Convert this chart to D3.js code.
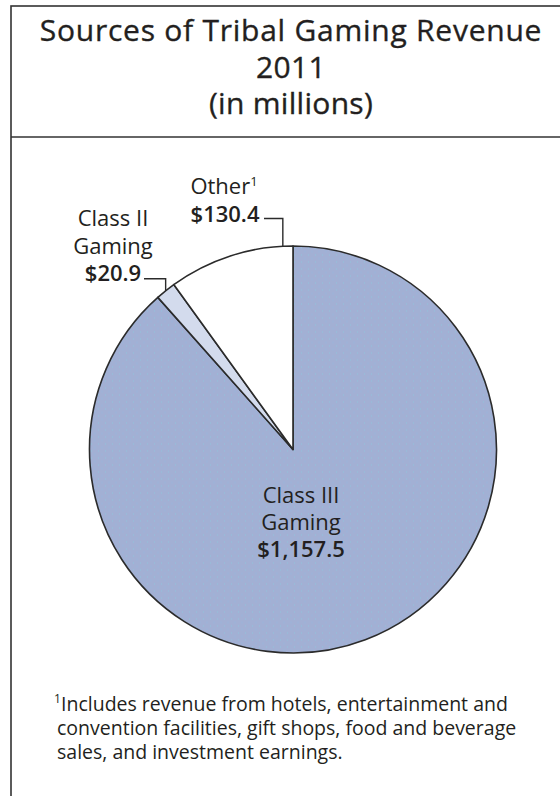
<!DOCTYPE html>
<html>
<head>
<meta charset="utf-8">
<script src="https://cdn.jsdelivr.net/npm/d3@7"></script>
<style>
  html, body { margin: 0; padding: 0; background: #fff; }
  svg { display: block; }
  text { font-family: "Open Sans", "DejaVu Sans", sans-serif; fill: #231f20; }
</style>
</head>
<body>
<div id="chart"></div>
<script>
(function() {
    'use strict';

    // Data (millions of dollars, 2011)
    var categories = ['Class III Gaming', 'Class II Gaming', 'Other'];
    var revenue = [1157.5, 20.9, 130.4];
    var valueLabels = ['$1,157.5', '$20.9', '$130.4'];

    var titleLines = ['Sources of Tribal Gaming Revenue', '2011', '(in millions)'];
    var footnoteLines = [
        'Includes revenue from hotels, entertainment and',
        'convention facilities, gift shops, food and beverage',
        'sales, and investment earnings.'
    ];

    var width = 560, height = 796;
    var cx = 293, cy = 449.5, radius = 203.5;

    var fills = ['url(#dots)', '#d3dbed', '#ffffff'];

    var svg = d3.select('#chart').append('svg')
        .attr('width', width)
        .attr('height', height);

    // Stipple pattern for the big slice
    var defs = svg.append('defs');
    var pat = defs.append('pattern')
        .attr('id', 'dots')
        .attr('width', 7)
        .attr('height', 7)
        .attr('patternUnits', 'userSpaceOnUse');
    pat.append('rect').attr('width', 7).attr('height', 7).attr('fill', '#a2b0d4');
    pat.append('rect').attr('x', 1).attr('y', 1).attr('width', 1).attr('height', 1).attr('fill', '#8fc4dc');
    pat.append('rect').attr('x', 4.5).attr('y', 4.5).attr('width', 1).attr('height', 1).attr('fill', '#94b9e2');

    // Frame
    svg.append('rect')
        .attr('x', 11).attr('y', 6)
        .attr('width', 566).attr('height', 800)
        .attr('fill', 'none')
        .attr('stroke', '#333')
        .attr('stroke-width', 1.6);
    svg.append('line')
        .attr('x1', 11).attr('x2', 577)
        .attr('y1', 137).attr('y2', 137)
        .attr('stroke', '#333')
        .attr('stroke-width', 1.6);

    // Title
    var titleY = [41, 78, 114];
    svg.selectAll('.title')
        .data(titleLines)
        .join('text')
        .attr('class', 'title')
        .attr('x', 291)
        .attr('y', function(d, i) { return titleY[i]; })
        .attr('text-anchor', 'middle')
        .attr('font-size', 30)
        .attr('letter-spacing', function(d, i) { return i === 0 ? 0.75 : 0.3; })
        .attr('stroke', '#231f20')
        .attr('stroke-width', 0.35)
        .text(function(d) { return d; });

    // Pie
    var pie = d3.pie().sort(null).value(function(d) { return d; });
    var arcs = pie(revenue);
    var arc = d3.arc().innerRadius(0).outerRadius(radius);

    var g = svg.append('g').attr('transform', 'translate(' + cx + ',' + cy + ')');

    g.selectAll('path')
        .data(arcs)
        .join('path')
        .attr('d', arc)
        .attr('fill', function(d, i) { return fills[i]; })
        .attr('stroke', '#2b2b2b')
        .attr('stroke-width', 1.6)
        .attr('stroke-linejoin', 'round');

    function onArc(a) {
        return [Math.sin(a) * radius, -Math.cos(a) * radius];
    }

    // Class III label, inside the slice
    var c3 = [categories[0].replace(' Gaming', ''), 'Gaming', valueLabels[0]];
    g.selectAll('.c3')
        .data(c3)
        .join('text')
        .attr('class', 'c3')
        .attr('x', 8)
        .attr('y', function(d, i) { return 53.5 + i * 27; })
        .attr('text-anchor', 'middle')
        .attr('font-size', 22)
        .attr('font-weight', function(d, i) { return i === 2 ? 600 : 400; })
        .text(function(d) { return d; });

    // Class II label + leader
    var a2 = (arcs[1].startAngle + arcs[1].endAngle) / 2;
    var p2 = onArc(a2);
    var c2 = ['Class II', 'Gaming', valueLabels[1]];
    g.selectAll('.c2')
        .data(c2)
        .join('text')
        .attr('class', 'c2')
        .attr('x', -180)
        .attr('y', function(d, i) { return -223.5 + i * 27.5; })
        .attr('text-anchor', 'middle')
        .attr('font-size', 22)
        .attr('font-weight', function(d, i) { return i === 2 ? 600 : 400; })
        .text(function(d) { return d; });
    g.append('path')
        .attr('d', d3.line()([[-149, p2[1] - 12], [p2[0], p2[1] - 12], [p2[0], p2[1]]]))
        .attr('fill', 'none')
        .attr('stroke', '#2b2b2b')
        .attr('stroke-width', 1.4);

    // Other label + leader
    var a3 = arcs[2].endAngle - 0.05;
    var p3 = onArc(a3);
    var oth = g.append('text')
        .attr('x', -69)
        .attr('y', -256)
        .attr('text-anchor', 'middle')
        .attr('font-size', 22);
    oth.append('tspan').text(categories[2]);
    oth.append('tspan').attr('dy', -8).attr('font-size', 13).text('1');
    g.append('text')
        .attr('x', -68)
        .attr('y', -228)
        .attr('text-anchor', 'middle')
        .attr('font-size', 22)
        .attr('font-weight', 600)
        .text(valueLabels[2]);
    g.append('path')
        .attr('d', d3.line()([[-29, -231], [p3[0], -231], [p3[0], p3[1]]]))
        .attr('fill', 'none')
        .attr('stroke', '#2b2b2b')
        .attr('stroke-width', 1.4);

    // Footnote
    svg.append('text')
        .attr('x', 54).attr('y', 703)
        .attr('font-size', 12)
        .text('1');
    svg.selectAll('.foot')
        .data(footnoteLines)
        .join('text')
        .attr('class', 'foot')
        .attr('x', function(d, i) { return i === 0 ? 61 : 57; })
        .attr('y', function(d, i) { return 711 + i * 24; })
        .attr('font-size', 19.5)
        .text(function(d) { return d; });
})();
</script>
</body>
</html>
